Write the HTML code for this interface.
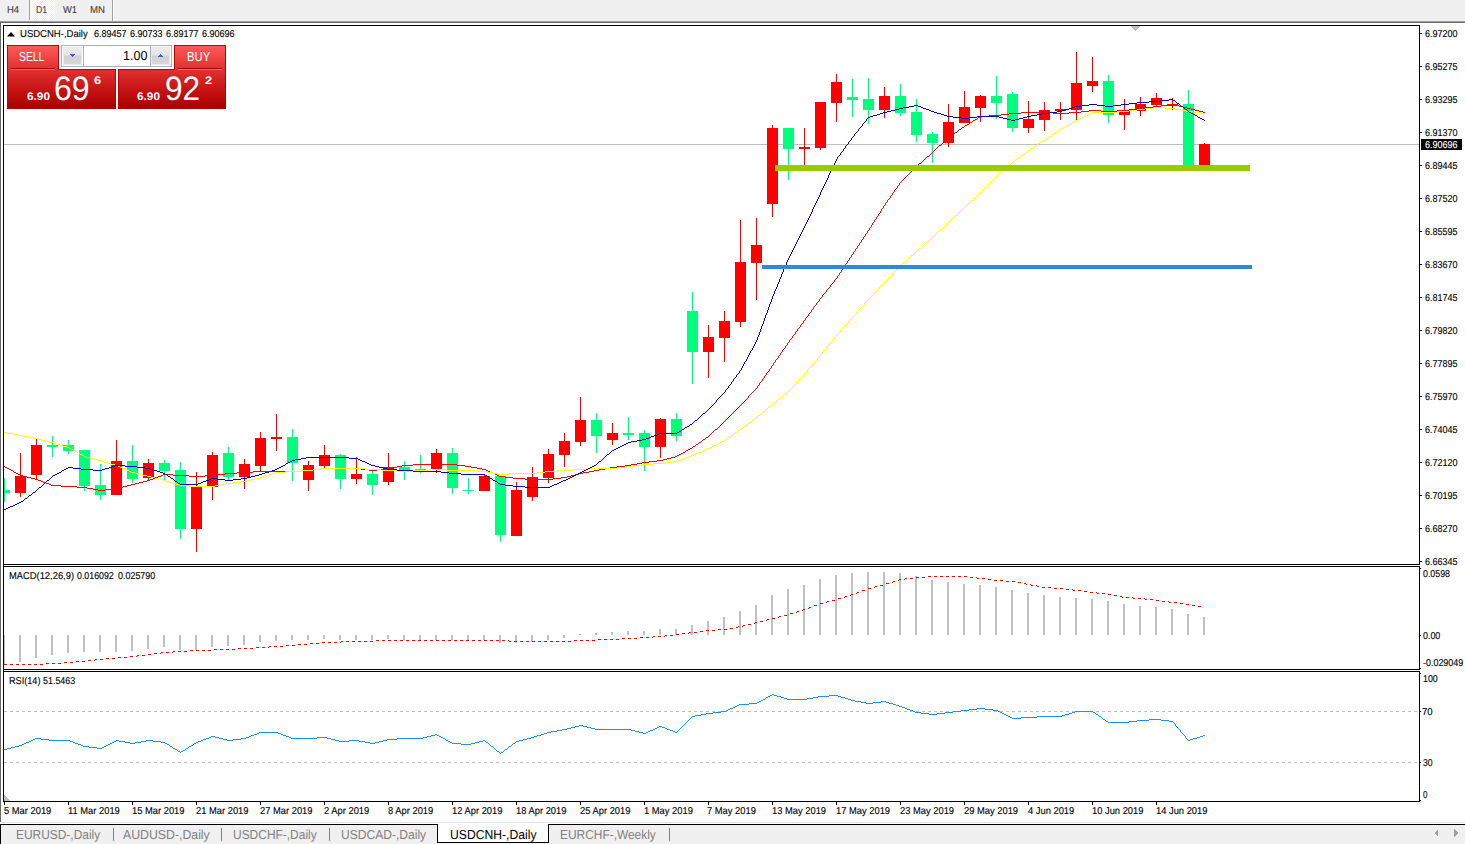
<!DOCTYPE html>
<html><head><meta charset="utf-8"><title>USDCNH Daily</title><style>
html,body{margin:0;padding:0;background:#fff;}
body{width:1465px;height:844px;position:relative;overflow:hidden;font-family:"Liberation Sans",sans-serif;}
svg{position:absolute;left:0;top:0;}
.t{position:absolute;white-space:nowrap;line-height:1;transform-origin:0 0;text-rendering:geometricPrecision;font-family:"Liberation Sans",sans-serif;}
.s{-webkit-text-stroke:0.12px currentColor;}
.oc div{position:absolute;box-sizing:border-box;}
.sellb{left:7px;top:45px;width:52px;height:24px;background:linear-gradient(#ff5a5a,#e03030);border:1px solid #c80000;border-bottom:none;}
.buyb{left:174px;top:45px;width:52px;height:24px;background:linear-gradient(#ff5a5a,#e03030);border:1px solid #c80000;border-bottom:none;}
.sellp{left:7px;top:69px;width:109px;height:40px;background:linear-gradient(#e03030,#c81414 50%,#aa0000);border:1px solid #c00000;}
.buyp{left:118px;top:69px;width:108px;height:40px;background:linear-gradient(#e03030,#c81414 50%,#aa0000);border:1px solid #c00000;}
.vol{left:61px;top:45px;width:111px;height:22px;border:1px solid #aab0bc;background:#fff;}
.vb{top:1px;width:19px;height:18px;background:linear-gradient(#ececec,#e4e4e4 45%,#d0d0d0 50%,#d8d8d8);border:1px solid #e8e8e8;}
.vb.l{left:1px}.vb.r{right:1px}
.vf{left:21px;top:0;width:68px;height:20px;border-left:1px solid #aab0bc;border-right:1px solid #aab0bc;background:#fff;}
</style></head>
<body>

<div class="oc">
 <div class="sellb"></div><div class="buyb"></div>
 <div class="sellp"></div><div class="buyp"></div>
 <div class="vol"><div class="vb l"></div><div class="vf"></div><div class="vb r"></div></div>
</div>
<svg width="1465" height="844" viewBox="0 0 1465 844" shape-rendering="crispEdges">
<rect x="0" y="0" width="1465" height="21" fill="#f0f0f0" />
<defs><pattern id="hx" width="2" height="2" patternUnits="userSpaceOnUse"><rect width="2" height="2" fill="#f0f0f0"/><rect width="1" height="1" fill="#fff"/><rect x="1" y="1" width="1" height="1" fill="#fff"/></pattern></defs>
<rect x="30" y="0" width="25" height="20" fill="url(#hx)" />
<rect x="29" y="0" width="1" height="20" fill="#a0a0a0" />
<rect x="112" y="0" width="1" height="21" fill="#a0a0a0" />
<rect x="113" y="0" width="1" height="21" fill="#ffffff" />
<rect x="0" y="21" width="1465" height="1" fill="#a0a0a0" />
<rect x="0" y="22" width="1465" height="1" fill="#696969" />
<rect x="0" y="22" width="1" height="801" fill="#696969" />
<rect x="3" y="25" width="1417" height="1" fill="#000" />
<rect x="3" y="25" width="1" height="777" fill="#000" />
<rect x="1419" y="25" width="1" height="540" fill="#000" />
<rect x="1419" y="566" width="1" height="104" fill="#000" />
<rect x="1419" y="671" width="1" height="131" fill="#000" />
<rect x="1420" y="568" width="1" height="1" fill="#000" />
<rect x="1420" y="635" width="1" height="1" fill="#000" />
<rect x="1420" y="668" width="1" height="1" fill="#000" />
<rect x="1420" y="673" width="1" height="1" fill="#000" />
<rect x="1420" y="711" width="1" height="1" fill="#000" />
<rect x="1420" y="762" width="1" height="1" fill="#000" />
<rect x="1420" y="800" width="1" height="1" fill="#000" />
<rect x="3" y="801" width="1417" height="1" fill="#000" />
<rect x="3" y="564" width="1417" height="1" fill="#000" />
<rect x="3" y="566" width="1417" height="1" fill="#000" />
<rect x="3" y="669" width="1417" height="1" fill="#000" />
<rect x="3" y="671" width="1417" height="1" fill="#000" />
<polygon points="1130,26 1140,26 1135,31" fill="#c0c0c0"/>
<polygon points="4,795 4,801 10,801" fill="#c0c0c0"/>
<rect x="4" y="144" width="1415" height="1" fill="#c0c0c0" />
<clipPath id="cp"><rect x="4" y="26" width="1415" height="775"/></clipPath><g clip-path="url(#cp)">
<rect x="4" y="478" width="1" height="24" fill="#00ff7f" />
<rect x="-1" y="490" width="11" height="3" fill="#00ff7f" />
<rect x="20" y="453" width="1" height="44" fill="#ff0000" />
<rect x="15" y="476" width="11" height="17" fill="#ff0000" />
<rect x="36" y="439" width="1" height="41" fill="#ff0000" />
<rect x="31" y="445" width="11" height="30" fill="#ff0000" />
<rect x="52" y="436" width="1" height="21" fill="#00ff7f" />
<rect x="47" y="445" width="11" height="2" fill="#00ff7f" />
<rect x="68" y="440" width="1" height="14" fill="#00ff7f" />
<rect x="63" y="445" width="11" height="6" fill="#00ff7f" />
<rect x="84" y="450" width="1" height="41" fill="#00ff7f" />
<rect x="79" y="450" width="11" height="36" fill="#00ff7f" />
<rect x="100" y="464" width="1" height="36" fill="#00ff7f" />
<rect x="95" y="485" width="11" height="10" fill="#00ff7f" />
<rect x="116" y="440" width="1" height="55" fill="#ff0000" />
<rect x="111" y="461" width="11" height="34" fill="#ff0000" />
<rect x="132" y="445" width="1" height="38" fill="#00ff7f" />
<rect x="127" y="461" width="11" height="18" fill="#00ff7f" />
<rect x="148" y="459" width="1" height="21" fill="#ff0000" />
<rect x="143" y="463" width="11" height="15" fill="#ff0000" />
<rect x="164" y="460" width="1" height="20" fill="#00ff7f" />
<rect x="159" y="463" width="11" height="8" fill="#00ff7f" />
<rect x="180" y="462" width="1" height="77" fill="#00ff7f" />
<rect x="175" y="470" width="11" height="59" fill="#00ff7f" />
<rect x="196" y="472" width="1" height="80" fill="#ff0000" />
<rect x="191" y="486" width="11" height="43" fill="#ff0000" />
<rect x="212" y="452" width="1" height="48" fill="#ff0000" />
<rect x="207" y="455" width="11" height="32" fill="#ff0000" />
<rect x="228" y="447" width="1" height="33" fill="#00ff7f" />
<rect x="223" y="453" width="11" height="24" fill="#00ff7f" />
<rect x="244" y="459" width="1" height="30" fill="#ff0000" />
<rect x="239" y="464" width="11" height="13" fill="#ff0000" />
<rect x="260" y="432" width="1" height="40" fill="#ff0000" />
<rect x="255" y="438" width="11" height="28" fill="#ff0000" />
<rect x="276" y="414" width="1" height="37" fill="#ff0000" />
<rect x="271" y="437" width="11" height="2" fill="#ff0000" />
<rect x="292" y="429" width="1" height="52" fill="#00ff7f" />
<rect x="287" y="437" width="11" height="26" fill="#00ff7f" />
<rect x="308" y="461" width="1" height="30" fill="#ff0000" />
<rect x="303" y="465" width="11" height="15" fill="#ff0000" />
<rect x="324" y="445" width="1" height="23" fill="#ff0000" />
<rect x="319" y="455" width="11" height="11" fill="#ff0000" />
<rect x="340" y="454" width="1" height="35" fill="#00ff7f" />
<rect x="335" y="455" width="11" height="24" fill="#00ff7f" />
<rect x="356" y="457" width="1" height="27" fill="#ff0000" />
<rect x="351" y="474" width="11" height="5" fill="#ff0000" />
<rect x="372" y="471" width="1" height="24" fill="#00ff7f" />
<rect x="367" y="474" width="11" height="11" fill="#00ff7f" />
<rect x="388" y="453" width="1" height="32" fill="#ff0000" />
<rect x="383" y="467" width="11" height="15" fill="#ff0000" />
<rect x="404" y="461" width="1" height="19" fill="#00ff7f" />
<rect x="399" y="467" width="11" height="4" fill="#00ff7f" />
<rect x="420" y="455" width="1" height="18" fill="#00ff7f" />
<rect x="415" y="469" width="11" height="2" fill="#00ff7f" />
<rect x="436" y="449" width="1" height="24" fill="#ff0000" />
<rect x="431" y="453" width="11" height="16" fill="#ff0000" />
<rect x="452" y="448" width="1" height="46" fill="#00ff7f" />
<rect x="447" y="453" width="11" height="35" fill="#00ff7f" />
<rect x="468" y="478" width="1" height="16" fill="#00ff7f" />
<rect x="463" y="490" width="11" height="1" fill="#00ff7f" />
<rect x="484" y="475" width="1" height="16" fill="#ff0000" />
<rect x="479" y="476" width="11" height="15" fill="#ff0000" />
<rect x="500" y="476" width="1" height="66" fill="#00ff7f" />
<rect x="495" y="476" width="11" height="59" fill="#00ff7f" />
<rect x="516" y="482" width="1" height="54" fill="#ff0000" />
<rect x="511" y="490" width="11" height="46" fill="#ff0000" />
<rect x="532" y="467" width="1" height="34" fill="#ff0000" />
<rect x="527" y="477" width="11" height="20" fill="#ff0000" />
<rect x="548" y="449" width="1" height="34" fill="#ff0000" />
<rect x="543" y="454" width="11" height="24" fill="#ff0000" />
<rect x="564" y="433" width="1" height="34" fill="#ff0000" />
<rect x="559" y="441" width="11" height="14" fill="#ff0000" />
<rect x="580" y="397" width="1" height="49" fill="#ff0000" />
<rect x="575" y="420" width="11" height="22" fill="#ff0000" />
<rect x="596" y="413" width="1" height="40" fill="#00ff7f" />
<rect x="591" y="420" width="11" height="16" fill="#00ff7f" />
<rect x="612" y="423" width="1" height="22" fill="#ff0000" />
<rect x="607" y="433" width="11" height="7" fill="#ff0000" />
<rect x="628" y="417" width="1" height="23" fill="#00ff7f" />
<rect x="623" y="433" width="11" height="2" fill="#00ff7f" />
<rect x="644" y="430" width="1" height="41" fill="#00ff7f" />
<rect x="639" y="433" width="11" height="14" fill="#00ff7f" />
<rect x="660" y="418" width="1" height="40" fill="#ff0000" />
<rect x="655" y="419" width="11" height="28" fill="#ff0000" />
<rect x="676" y="413" width="1" height="28" fill="#00ff7f" />
<rect x="671" y="419" width="11" height="17" fill="#00ff7f" />
<rect x="692" y="292" width="1" height="92" fill="#00ff7f" />
<rect x="687" y="311" width="11" height="41" fill="#00ff7f" />
<rect x="708" y="325" width="1" height="53" fill="#ff0000" />
<rect x="703" y="337" width="11" height="15" fill="#ff0000" />
<rect x="724" y="311" width="1" height="51" fill="#ff0000" />
<rect x="719" y="321" width="11" height="17" fill="#ff0000" />
<rect x="740" y="220" width="1" height="107" fill="#ff0000" />
<rect x="735" y="262" width="11" height="60" fill="#ff0000" />
<rect x="756" y="218" width="1" height="82" fill="#ff0000" />
<rect x="751" y="245" width="11" height="18" fill="#ff0000" />
<rect x="772" y="125" width="1" height="92" fill="#ff0000" />
<rect x="767" y="128" width="11" height="76" fill="#ff0000" />
<rect x="788" y="128" width="1" height="52" fill="#00ff7f" />
<rect x="783" y="128" width="11" height="21" fill="#00ff7f" />
<rect x="804" y="128" width="1" height="37" fill="#ff0000" />
<rect x="799" y="147" width="11" height="2" fill="#ff0000" />
<rect x="820" y="102" width="1" height="48" fill="#ff0000" />
<rect x="815" y="102" width="11" height="46" fill="#ff0000" />
<rect x="836" y="74" width="1" height="48" fill="#ff0000" />
<rect x="831" y="82" width="11" height="21" fill="#ff0000" />
<rect x="852" y="79" width="1" height="38" fill="#00ff7f" />
<rect x="847" y="97" width="11" height="3" fill="#00ff7f" />
<rect x="868" y="78" width="1" height="46" fill="#00ff7f" />
<rect x="863" y="99" width="11" height="11" fill="#00ff7f" />
<rect x="884" y="87" width="1" height="31" fill="#ff0000" />
<rect x="879" y="96" width="11" height="14" fill="#ff0000" />
<rect x="900" y="84" width="1" height="32" fill="#00ff7f" />
<rect x="895" y="96" width="11" height="17" fill="#00ff7f" />
<rect x="916" y="99" width="1" height="43" fill="#00ff7f" />
<rect x="911" y="112" width="11" height="23" fill="#00ff7f" />
<rect x="932" y="132" width="1" height="31" fill="#00ff7f" />
<rect x="927" y="134" width="11" height="9" fill="#00ff7f" />
<rect x="948" y="104" width="1" height="43" fill="#ff0000" />
<rect x="943" y="122" width="11" height="21" fill="#ff0000" />
<rect x="964" y="91" width="1" height="32" fill="#ff0000" />
<rect x="959" y="107" width="11" height="16" fill="#ff0000" />
<rect x="980" y="95" width="1" height="27" fill="#ff0000" />
<rect x="975" y="96" width="11" height="12" fill="#ff0000" />
<rect x="996" y="76" width="1" height="43" fill="#00ff7f" />
<rect x="991" y="96" width="11" height="7" fill="#00ff7f" />
<rect x="1012" y="92" width="1" height="40" fill="#00ff7f" />
<rect x="1007" y="94" width="11" height="34" fill="#00ff7f" />
<rect x="1028" y="101" width="1" height="32" fill="#ff0000" />
<rect x="1023" y="119" width="11" height="9" fill="#ff0000" />
<rect x="1044" y="102" width="1" height="29" fill="#ff0000" />
<rect x="1039" y="110" width="11" height="10" fill="#ff0000" />
<rect x="1060" y="102" width="1" height="18" fill="#ff0000" />
<rect x="1055" y="109" width="11" height="2" fill="#ff0000" />
<rect x="1076" y="52" width="1" height="68" fill="#ff0000" />
<rect x="1071" y="83" width="11" height="27" fill="#ff0000" />
<rect x="1092" y="57" width="1" height="35" fill="#ff0000" />
<rect x="1087" y="81" width="11" height="5" fill="#ff0000" />
<rect x="1108" y="75" width="1" height="48" fill="#00ff7f" />
<rect x="1103" y="81" width="11" height="34" fill="#00ff7f" />
<rect x="1124" y="99" width="1" height="31" fill="#ff0000" />
<rect x="1119" y="111" width="11" height="4" fill="#ff0000" />
<rect x="1140" y="97" width="1" height="19" fill="#ff0000" />
<rect x="1135" y="104" width="11" height="7" fill="#ff0000" />
<rect x="1156" y="93" width="1" height="13" fill="#ff0000" />
<rect x="1151" y="98" width="11" height="7" fill="#ff0000" />
<rect x="1172" y="98" width="1" height="12" fill="#ff0000" />
<rect x="1167" y="104" width="11" height="2" fill="#ff0000" />
<rect x="1188" y="90" width="1" height="75" fill="#00ff7f" />
<rect x="1183" y="104" width="11" height="61" fill="#00ff7f" />
<rect x="1204" y="143" width="1" height="22" fill="#ff0000" />
<rect x="1199" y="144" width="11" height="21" fill="#ff0000" />
<path d="M4 466h1v1h-1zM5 467h2v1h-2zM7 468h2v1h-2zM9 469h2v1h-2zM11 470h2v1h-2zM13 471h1v1h-1zM14 472h2v1h-2zM16 473h2v1h-2zM18 474h2v1h-2zM20 475h3v1h-3zM23 476h4v1h-4zM27 477h4v1h-4zM31 478h4v1h-4zM35 479h3v1h-3zM38 480h3v1h-3zM41 481h2v1h-2zM43 482h3v1h-3zM46 483h3v1h-3zM49 484h2v1h-2zM51 485h10v1h-10zM61 486h16v1h-16zM77 487h10v1h-10zM87 488h6v1h-6zM93 489h5v1h-5zM98 490h7v1h-7zM105 489h8v1h-8zM113 488h6v1h-6zM119 487h4v1h-4zM123 486h4v1h-4zM127 485h4v1h-4zM131 484h4v1h-4zM135 483h4v1h-4zM139 482h4v1h-4zM143 481h4v1h-4zM147 480h3v1h-3zM150 479h3v1h-3zM153 478h2v1h-2zM155 477h3v1h-3zM158 476h3v1h-3zM161 475h2v1h-2zM163 474h10v1h-10zM173 475h16v1h-16zM189 476h16v1h-16zM205 475h12v1h-12zM217 474h8v1h-8zM225 473h12v1h-12zM237 472h16v1h-16zM253 471h48v1h-48zM301 470h12v1h-12zM313 469h8v1h-8zM321 468h40v1h-40zM361 469h8v1h-8zM369 470h8v1h-8zM377 469h8v1h-8zM385 468h6v1h-6zM391 467h6v1h-6zM397 466h5v1h-5zM402 465h11v1h-11zM413 464h44v1h-44zM457 465h8v1h-8zM465 466h6v1h-6zM471 467h6v1h-6zM477 468h5v1h-5zM482 469h4v1h-4zM486 470h2v1h-2zM488 471h2v1h-2zM490 472h3v1h-3zM493 473h2v1h-2zM495 474h2v1h-2zM497 475h2v1h-2zM499 476h6v1h-6zM505 477h8v1h-8zM513 478h12v1h-12zM525 479h28v1h-28zM553 478h8v1h-8zM561 477h6v1h-6zM567 476h4v1h-4zM571 475h4v1h-4zM575 474h4v1h-4zM579 473h4v1h-4zM583 472h6v1h-6zM589 471h5v1h-5zM594 470h5v1h-5zM599 469h6v1h-6zM605 468h5v1h-5zM610 467h7v1h-7zM617 466h8v1h-8zM625 465h6v1h-6zM631 464h6v1h-6zM637 463h5v1h-5zM642 462h7v1h-7zM649 461h8v1h-8zM657 460h6v1h-6zM663 459h4v1h-4zM667 458h4v1h-4zM671 457h4v1h-4zM675 456h2v1h-2zM677 455h2v1h-2zM679 454h2v1h-2zM681 453h2v1h-2zM683 452h2v1h-2zM685 451h1v1h-1zM686 450h2v1h-2zM688 449h2v1h-2zM690 448h2v1h-2zM692 447h1v1h-1zM693 446h2v1h-2zM695 445h1v1h-1zM696 444h2v1h-2zM698 443h1v1h-1zM699 442h2v1h-2zM701 441h1v1h-1zM702 440h1v1h-1zM703 439h2v1h-2zM705 438h1v1h-1zM706 437h2v1h-2zM708 436h1v1h-1zM709 435h1v1h-1zM710 434h1v1h-1zM711 433h1v1h-1zM712 432h1v1h-1zM713 431h1v1h-1zM714 430h1v1h-1zM715 429h2v1h-2zM717 428h1v1h-1zM718 427h1v1h-1zM719 426h1v1h-1zM720 425h1v1h-1zM721 424h1v1h-1zM722 423h1v1h-1zM723 422h1v1h-1zM724 421h1v1h-1zM725 420h1v1h-1zM726 419h1v1h-1zM727 418h1v1h-1zM728 417h1v1h-1zM729 416h1v1h-1zM730 415h1v1h-1zM731 414h1v1h-1zM732 413h1v1h-1zM733 412h1v1h-1zM734 411h1v1h-1zM735 410h1v1h-1zM736 409h1v1h-1zM737 408h1v1h-1zM738 407h1v1h-1zM739 406h1v1h-1zM740 405h1v1h-1zM741 404h1v1h-1zM742 403h1v1h-1zM743 402h1v1h-1zM744 401h1v1h-1zM745 400h1v1h-1zM746 399h1v1h-1zM747 398h1v1h-1zM748 396h1v2h-1zM749 395h1v1h-1zM750 394h1v1h-1zM751 393h1v1h-1zM752 392h1v1h-1zM753 391h1v1h-1zM754 390h1v1h-1zM755 389h1v1h-1zM756 388h1v1h-1zM757 386h1v2h-1zM758 385h1v1h-1zM759 383h1v2h-1zM760 382h1v1h-1zM761 381h1v1h-1zM762 379h1v2h-1zM763 378h1v1h-1zM764 376h1v2h-1zM765 375h1v1h-1zM766 373h1v2h-1zM767 372h1v1h-1zM768 371h1v1h-1zM769 369h1v2h-1zM770 368h1v1h-1zM771 366h1v2h-1zM772 365h1v1h-1zM773 363h1v2h-1zM774 362h1v1h-1zM775 360h1v2h-1zM776 359h1v1h-1zM777 358h1v1h-1zM778 356h1v2h-1zM779 355h1v1h-1zM780 353h1v2h-1zM781 352h1v1h-1zM782 350h1v2h-1zM783 349h1v1h-1zM784 348h1v1h-1zM785 346h1v2h-1zM786 345h1v1h-1zM787 343h1v2h-1zM788 342h1v1h-1zM789 340h1v2h-1zM790 339h1v1h-1zM791 338h1v1h-1zM792 336h1v2h-1zM793 335h1v1h-1zM794 334h1v1h-1zM795 332h1v2h-1zM796 331h1v1h-1zM797 329h1v2h-1zM798 328h1v1h-1zM799 327h1v1h-1zM800 325h1v2h-1zM801 324h1v1h-1zM802 323h1v1h-1zM803 321h1v2h-1zM804 320h1v1h-1zM805 318h1v2h-1zM806 317h1v1h-1zM807 316h1v1h-1zM808 314h1v2h-1zM809 313h1v1h-1zM810 312h1v1h-1zM811 310h1v2h-1zM812 309h1v1h-1zM813 307h1v2h-1zM814 306h1v1h-1zM815 305h1v1h-1zM816 303h1v2h-1zM817 302h1v1h-1zM818 301h1v1h-1zM819 299h1v2h-1zM820 298h1v1h-1zM821 297h1v1h-1zM822 295h1v2h-1zM823 294h1v1h-1zM824 293h1v1h-1zM825 292h1v1h-1zM826 290h1v2h-1zM827 289h1v1h-1zM828 288h1v1h-1zM829 287h1v1h-1zM830 285h1v2h-1zM831 284h1v1h-1zM832 283h1v1h-1zM833 282h1v1h-1zM834 280h1v2h-1zM835 279h1v1h-1zM836 278h1v1h-1zM837 276h1v2h-1zM838 275h1v1h-1zM839 273h1v2h-1zM840 272h1v1h-1zM841 270h1v2h-1zM842 269h1v1h-1zM843 267h1v2h-1zM844 266h1v1h-1zM845 264h1v2h-1zM846 263h1v1h-1zM847 261h1v2h-1zM848 260h1v1h-1zM849 258h1v2h-1zM850 257h1v1h-1zM851 255h1v2h-1zM852 254h1v1h-1zM853 252h1v2h-1zM854 251h1v1h-1zM855 249h1v2h-1zM856 248h1v1h-1zM857 246h1v2h-1zM858 245h1v1h-1zM859 243h1v2h-1zM860 242h1v1h-1zM861 240h1v2h-1zM862 239h1v1h-1zM863 237h1v2h-1zM864 236h1v1h-1zM865 234h1v2h-1zM866 233h1v1h-1zM867 231h1v2h-1zM868 230h1v1h-1zM869 228h1v2h-1zM870 227h1v1h-1zM871 225h1v2h-1zM872 223h1v2h-1zM873 222h1v1h-1zM874 220h1v2h-1zM875 219h1v1h-1zM876 217h1v2h-1zM877 216h1v1h-1zM878 214h1v2h-1zM879 213h1v1h-1zM880 211h1v2h-1zM881 209h1v2h-1zM882 208h1v1h-1zM883 206h1v2h-1zM884 205h1v1h-1zM885 203h1v2h-1zM886 202h1v1h-1zM887 200h1v2h-1zM888 199h1v1h-1zM889 198h1v1h-1zM890 196h1v2h-1zM891 195h1v1h-1zM892 193h1v2h-1zM893 192h1v1h-1zM894 190h1v2h-1zM895 189h1v1h-1zM896 188h1v1h-1zM897 186h1v2h-1zM898 185h1v1h-1zM899 183h1v2h-1zM900 182h1v1h-1zM901 181h1v1h-1zM902 180h1v1h-1zM903 179h1v1h-1zM904 178h1v1h-1zM905 177h1v1h-1zM906 176h1v1h-1zM907 175h1v1h-1zM908 174h1v1h-1zM909 173h1v1h-1zM910 172h1v1h-1zM911 171h1v1h-1zM912 170h1v1h-1zM913 169h1v1h-1zM914 168h1v1h-1zM915 167h1v1h-1zM916 166h1v1h-1zM917 165h1v1h-1zM918 164h1v1h-1zM919 163h2v1h-2zM921 162h1v1h-1zM922 161h1v1h-1zM923 160h1v1h-1zM924 159h1v1h-1zM925 158h1v1h-1zM926 157h1v1h-1zM927 156h2v1h-2zM929 155h1v1h-1zM930 154h1v1h-1zM931 153h1v1h-1zM932 152h1v1h-1zM933 151h1v1h-1zM934 150h1v1h-1zM935 149h1v1h-1zM936 148h1v1h-1zM937 147h1v1h-1zM938 146h1v1h-1zM939 145h2v1h-2zM941 144h1v1h-1zM942 143h1v1h-1zM943 142h1v1h-1zM944 141h1v1h-1zM945 140h1v1h-1zM946 139h1v1h-1zM947 138h1v1h-1zM948 137h1v1h-1zM949 136h2v1h-2zM951 135h1v1h-1zM952 134h2v1h-2zM954 133h1v1h-1zM955 132h2v1h-2zM957 131h1v1h-1zM958 130h1v1h-1zM959 129h2v1h-2zM961 128h1v1h-1zM962 127h2v1h-2zM964 126h1v1h-1zM965 125h2v1h-2zM967 124h2v1h-2zM969 123h1v1h-1zM970 122h2v1h-2zM972 121h1v1h-1zM973 120h2v1h-2zM975 119h2v1h-2zM977 118h1v1h-1zM978 117h2v1h-2zM980 116h9v1h-9zM989 115h12v1h-12zM1001 114h8v1h-8zM1009 113h12v1h-12zM1021 112h32v1h-32zM1053 113h16v1h-16zM1069 112h12v1h-12zM1081 111h8v1h-8zM1089 110h12v1h-12zM1101 111h16v1h-16zM1117 110h12v1h-12zM1129 109h8v1h-8zM1137 108h8v1h-8zM1145 107h8v1h-8zM1153 106h8v1h-8zM1161 105h8v1h-8zM1169 104h6v1h-6zM1175 105h4v1h-4zM1179 106h4v1h-4zM1183 107h4v1h-4zM1187 108h4v1h-4zM1191 109h4v1h-4zM1195 110h4v1h-4zM1199 111h4v1h-4zM1203 112h2v1h-2z" fill="#ff0000"/>
<path d="M4 432h3v1h-3zM7 433h6v1h-6zM13 434h5v1h-5zM18 435h5v1h-5zM23 436h6v1h-6zM29 437h5v1h-5zM34 438h4v1h-4zM38 439h4v1h-4zM42 440h3v1h-3zM45 441h4v1h-4zM49 442h4v1h-4zM53 443h3v1h-3zM56 444h4v1h-4zM60 445h3v1h-3zM63 446h4v1h-4zM67 447h2v1h-2zM69 448h2v1h-2zM71 449h2v1h-2zM73 450h2v1h-2zM75 451h2v1h-2zM77 452h1v1h-1zM78 453h2v1h-2zM80 454h2v1h-2zM82 455h2v1h-2zM84 456h2v1h-2zM86 457h4v1h-4zM90 458h3v1h-3zM93 459h4v1h-4zM97 460h4v1h-4zM101 461h3v1h-3zM104 462h4v1h-4zM108 463h3v1h-3zM111 464h4v1h-4zM115 465h3v1h-3zM118 466h2v1h-2zM120 467h2v1h-2zM122 468h3v1h-3zM125 469h2v1h-2zM127 470h2v1h-2zM129 471h2v1h-2zM131 472h4v1h-4zM135 473h4v1h-4zM139 474h4v1h-4zM143 475h4v1h-4zM147 476h4v1h-4zM151 477h4v1h-4zM155 478h4v1h-4zM159 479h4v1h-4zM163 480h3v1h-3zM166 481h3v1h-3zM169 482h4v1h-4zM173 483h3v1h-3zM176 484h3v1h-3zM179 485h10v1h-10zM189 486h26v1h-26zM215 485h6v1h-6zM221 484h5v1h-5zM226 483h7v1h-7zM233 482h8v1h-8zM241 481h6v1h-6zM247 480h4v1h-4zM251 479h4v1h-4zM255 478h4v1h-4zM259 477h3v1h-3zM262 476h3v1h-3zM265 475h4v1h-4zM269 474h3v1h-3zM272 473h3v1h-3zM275 472h10v1h-10zM285 471h16v1h-16zM301 470h12v1h-12zM313 469h8v1h-8zM321 468h44v1h-44zM365 469h16v1h-16zM381 470h16v1h-16zM397 471h16v1h-16zM413 470h16v1h-16zM429 469h16v1h-16zM445 470h32v1h-32zM477 471h10v1h-10zM487 472h6v1h-6zM493 473h5v1h-5zM498 474h11v1h-11zM509 473h28v1h-28zM537 472h8v1h-8zM545 471h12v1h-12zM557 470h16v1h-16zM573 469h16v1h-16zM589 468h28v1h-28zM617 467h8v1h-8zM625 466h8v1h-8zM633 465h8v1h-8zM641 464h12v1h-12zM653 463h12v1h-12zM665 462h8v1h-8zM673 461h5v1h-5zM678 460h3v1h-3zM681 459h2v1h-2zM683 458h3v1h-3zM686 457h3v1h-3zM689 456h2v1h-2zM691 455h3v1h-3zM694 454h2v1h-2zM696 453h2v1h-2zM698 452h3v1h-3zM701 451h2v1h-2zM703 450h2v1h-2zM705 449h2v1h-2zM707 448h3v1h-3zM710 447h2v1h-2zM712 446h2v1h-2zM714 445h2v1h-2zM716 444h2v1h-2zM718 443h2v1h-2zM720 442h2v1h-2zM722 441h2v1h-2zM724 440h1v1h-1zM725 439h2v1h-2zM727 438h1v1h-1zM728 437h2v1h-2zM730 436h1v1h-1zM731 435h2v1h-2zM733 434h1v1h-1zM734 433h1v1h-1zM735 432h2v1h-2zM737 431h1v1h-1zM738 430h2v1h-2zM740 429h1v1h-1zM741 428h2v1h-2zM743 427h1v1h-1zM744 426h1v1h-1zM745 425h2v1h-2zM747 424h1v1h-1zM748 423h1v1h-1zM749 422h2v1h-2zM751 421h1v1h-1zM752 420h1v1h-1zM753 419h2v1h-2zM755 418h1v1h-1zM756 417h1v1h-1zM757 416h1v1h-1zM758 415h2v1h-2zM760 414h1v1h-1zM761 413h1v1h-1zM762 412h1v1h-1zM763 411h2v1h-2zM765 410h1v1h-1zM766 409h1v1h-1zM767 408h1v1h-1zM768 407h1v1h-1zM769 406h2v1h-2zM771 405h1v1h-1zM772 404h1v1h-1zM773 403h1v1h-1zM774 402h2v1h-2zM776 401h1v1h-1zM777 400h1v1h-1zM778 399h1v1h-1zM779 398h2v1h-2zM781 397h1v1h-1zM782 396h1v1h-1zM783 395h1v1h-1zM784 394h1v1h-1zM785 393h2v1h-2zM787 392h1v1h-1zM788 391h1v1h-1zM789 390h1v1h-1zM790 389h1v1h-1zM791 388h1v1h-1zM792 387h1v1h-1zM793 386h1v1h-1zM794 385h1v1h-1zM795 384h1v1h-1zM796 382h1v2h-1zM797 381h1v1h-1zM798 380h1v1h-1zM799 379h1v1h-1zM800 378h1v1h-1zM801 377h1v1h-1zM802 376h1v1h-1zM803 375h1v1h-1zM804 374h1v1h-1zM805 373h1v1h-1zM806 372h1v1h-1zM807 370h1v2h-1zM808 369h1v1h-1zM809 368h1v1h-1zM810 367h1v1h-1zM811 366h1v1h-1zM812 364h1v2h-1zM813 363h1v1h-1zM814 362h1v1h-1zM815 361h1v1h-1zM816 360h1v1h-1zM817 358h1v2h-1zM818 357h1v1h-1zM819 356h1v1h-1zM820 355h1v1h-1zM821 354h1v1h-1zM822 352h1v2h-1zM823 351h1v1h-1zM824 350h1v1h-1zM825 349h1v1h-1zM826 347h1v2h-1zM827 346h1v1h-1zM828 345h1v1h-1zM829 344h1v1h-1zM830 342h1v2h-1zM831 341h1v1h-1zM832 340h1v1h-1zM833 339h1v1h-1zM834 337h1v2h-1zM835 336h1v1h-1zM836 335h1v1h-1zM837 334h1v1h-1zM838 333h1v1h-1zM839 332h1v1h-1zM840 330h1v2h-1zM841 329h1v1h-1zM842 328h1v1h-1zM843 327h1v1h-1zM844 326h1v1h-1zM845 325h1v1h-1zM846 324h1v1h-1zM847 323h1v1h-1zM848 321h1v2h-1zM849 320h1v1h-1zM850 319h1v1h-1zM851 318h1v1h-1zM852 317h1v1h-1zM853 316h1v1h-1zM854 315h1v1h-1zM855 314h1v1h-1zM856 312h1v2h-1zM857 311h1v1h-1zM858 310h1v1h-1zM859 309h1v1h-1zM860 308h1v1h-1zM861 307h1v1h-1zM862 306h1v1h-1zM863 305h1v1h-1zM864 303h1v2h-1zM865 302h1v1h-1zM866 301h1v1h-1zM867 300h1v1h-1zM868 299h1v1h-1zM869 298h1v1h-1zM870 297h1v1h-1zM871 296h1v1h-1zM872 295h1v1h-1zM873 294h1v1h-1zM874 293h1v1h-1zM875 292h1v1h-1zM876 290h1v2h-1zM877 289h1v1h-1zM878 288h1v1h-1zM879 287h1v1h-1zM880 286h1v1h-1zM881 285h1v1h-1zM882 284h1v1h-1zM883 283h1v1h-1zM884 282h1v1h-1zM885 281h1v1h-1zM886 280h1v1h-1zM887 279h1v1h-1zM888 278h1v1h-1zM889 277h1v1h-1zM890 276h1v1h-1zM891 275h1v1h-1zM892 273h1v2h-1zM893 272h1v1h-1zM894 271h1v1h-1zM895 270h1v1h-1zM896 269h1v1h-1zM897 268h1v1h-1zM898 267h1v1h-1zM899 266h1v1h-1zM900 265h1v1h-1zM901 264h1v1h-1zM902 263h1v1h-1zM903 262h2v1h-2zM905 261h1v1h-1zM906 260h1v1h-1zM907 259h1v1h-1zM908 258h1v1h-1zM909 257h1v1h-1zM910 256h1v1h-1zM911 255h2v1h-2zM913 254h1v1h-1zM914 253h1v1h-1zM915 252h1v1h-1zM916 251h1v1h-1zM917 250h1v1h-1zM918 249h1v1h-1zM919 248h2v1h-2zM921 247h1v1h-1zM922 246h1v1h-1zM923 245h1v1h-1zM924 244h1v1h-1zM925 243h1v1h-1zM926 242h1v1h-1zM927 241h2v1h-2zM929 240h1v1h-1zM930 239h1v1h-1zM931 238h1v1h-1zM932 237h1v1h-1zM933 236h1v1h-1zM934 235h1v1h-1zM935 234h1v1h-1zM936 233h1v1h-1zM937 232h1v1h-1zM938 231h1v1h-1zM939 230h2v1h-2zM941 229h1v1h-1zM942 228h1v1h-1zM943 227h1v1h-1zM944 226h1v1h-1zM945 225h1v1h-1zM946 224h1v1h-1zM947 223h1v1h-1zM948 222h1v1h-1zM949 221h1v1h-1zM950 220h1v1h-1zM951 219h1v1h-1zM952 218h1v1h-1zM953 217h1v1h-1zM954 216h1v1h-1zM955 215h2v1h-2zM957 214h1v1h-1zM958 213h1v1h-1zM959 212h1v1h-1zM960 211h1v1h-1zM961 210h1v1h-1zM962 209h1v1h-1zM963 208h1v1h-1zM964 207h1v1h-1zM965 206h1v1h-1zM966 205h1v1h-1zM967 204h1v1h-1zM968 203h1v1h-1zM969 202h1v1h-1zM970 201h1v1h-1zM971 200h2v1h-2zM973 199h1v1h-1zM974 198h1v1h-1zM975 197h1v1h-1zM976 196h1v1h-1zM977 195h1v1h-1zM978 194h1v1h-1zM979 193h1v1h-1zM980 192h1v1h-1zM981 191h1v1h-1zM982 190h1v1h-1zM983 189h1v1h-1zM984 188h1v1h-1zM985 187h1v1h-1zM986 186h1v1h-1zM987 185h1v1h-1zM988 184h1v1h-1zM989 183h1v1h-1zM990 182h1v1h-1zM991 181h1v1h-1zM992 180h1v1h-1zM993 179h1v1h-1zM994 178h1v1h-1zM995 177h1v1h-1zM996 176h1v1h-1zM997 175h1v1h-1zM998 174h1v1h-1zM999 173h1v1h-1zM1000 172h1v1h-1zM1001 171h1v1h-1zM1002 170h1v1h-1zM1003 169h2v1h-2zM1005 168h1v1h-1zM1006 167h1v1h-1zM1007 166h1v1h-1zM1008 165h2v1h-2zM1010 164h1v1h-1zM1011 163h1v1h-1zM1012 162h1v1h-1zM1013 161h2v1h-2zM1015 160h1v1h-1zM1016 159h1v1h-1zM1017 158h2v1h-2zM1019 157h1v1h-1zM1020 156h1v1h-1zM1021 155h2v1h-2zM1023 154h1v1h-1zM1024 153h2v1h-2zM1026 152h1v1h-1zM1027 151h1v1h-1zM1028 150h2v1h-2zM1030 149h1v1h-1zM1031 148h2v1h-2zM1033 147h1v1h-1zM1034 146h1v1h-1zM1035 145h2v1h-2zM1037 144h1v1h-1zM1038 143h2v1h-2zM1040 142h1v1h-1zM1041 141h2v1h-2zM1043 140h2v1h-2zM1045 139h1v1h-1zM1046 138h2v1h-2zM1048 137h1v1h-1zM1049 136h2v1h-2zM1051 135h1v1h-1zM1052 134h2v1h-2zM1054 133h1v1h-1zM1055 132h2v1h-2zM1057 131h1v1h-1zM1058 130h2v1h-2zM1060 129h1v1h-1zM1061 128h2v1h-2zM1063 127h2v1h-2zM1065 126h2v1h-2zM1067 125h2v1h-2zM1069 124h1v1h-1zM1070 123h2v1h-2zM1072 122h2v1h-2zM1074 121h2v1h-2zM1076 120h2v1h-2zM1078 119h2v1h-2zM1080 118h2v1h-2zM1082 117h2v1h-2zM1084 116h2v1h-2zM1086 115h2v1h-2zM1088 114h2v1h-2zM1090 113h2v1h-2zM1092 112h25v1h-25zM1117 111h12v1h-12zM1129 110h8v1h-8zM1137 109h8v1h-8zM1145 108h8v1h-8zM1153 107h12v1h-12zM1165 108h10v1h-10zM1175 109h6v1h-6zM1181 110h5v1h-5zM1186 111h7v1h-7zM1193 112h8v1h-8zM1201 113h4v1h-4z" fill="#ffff00"/>
<path d="M4 509h2v1h-2zM6 508h2v1h-2zM8 507h2v1h-2zM10 506h3v1h-3zM13 505h2v1h-2zM15 504h2v1h-2zM17 503h2v1h-2zM19 502h2v1h-2zM21 501h2v1h-2zM23 500h1v1h-1zM24 499h1v1h-1zM25 498h2v1h-2zM27 497h1v1h-1zM28 496h1v1h-1zM29 495h2v1h-2zM31 494h1v1h-1zM32 493h1v1h-1zM33 492h2v1h-2zM35 491h1v1h-1zM36 490h1v1h-1zM37 489h1v1h-1zM38 488h1v1h-1zM39 487h2v1h-2zM41 486h1v1h-1zM42 485h1v1h-1zM43 484h1v1h-1zM44 483h1v1h-1zM45 482h1v1h-1zM46 481h1v1h-1zM47 480h2v1h-2zM49 479h1v1h-1zM50 478h1v1h-1zM51 477h1v1h-1zM52 476h1v1h-1zM53 475h2v1h-2zM55 474h2v1h-2zM57 473h2v1h-2zM59 472h2v1h-2zM61 471h1v1h-1zM62 470h2v1h-2zM64 469h2v1h-2zM66 468h2v1h-2zM68 467h5v1h-5zM73 468h8v1h-8zM81 469h12v1h-12zM93 470h9v1h-9zM102 469h3v1h-3zM105 468h4v1h-4zM109 467h3v1h-3zM112 466h3v1h-3zM115 465h10v1h-10zM125 466h12v1h-12zM137 467h8v1h-8zM145 468h5v1h-5zM150 469h3v1h-3zM153 470h4v1h-4zM157 471h3v1h-3zM160 472h3v1h-3zM163 473h2v1h-2zM165 474h2v1h-2zM167 475h1v1h-1zM168 476h2v1h-2zM170 477h1v1h-1zM171 478h2v1h-2zM173 479h1v1h-1zM174 480h1v1h-1zM175 481h2v1h-2zM177 482h1v1h-1zM178 483h2v1h-2zM180 484h18v1h-18zM198 483h3v1h-3zM201 482h2v1h-2zM203 481h3v1h-3zM206 480h3v1h-3zM209 479h2v1h-2zM211 478h6v1h-6zM217 479h8v1h-8zM225 480h8v1h-8zM233 479h8v1h-8zM241 478h6v1h-6zM247 477h4v1h-4zM251 476h4v1h-4zM255 475h4v1h-4zM259 474h3v1h-3zM262 473h3v1h-3zM265 472h4v1h-4zM269 471h3v1h-3zM272 470h3v1h-3zM275 469h2v1h-2zM277 468h2v1h-2zM279 467h2v1h-2zM281 466h2v1h-2zM283 465h2v1h-2zM285 464h1v1h-1zM286 463h2v1h-2zM288 462h2v1h-2zM290 461h2v1h-2zM292 460h3v1h-3zM295 459h6v1h-6zM301 458h5v1h-5zM306 457h43v1h-43zM349 458h9v1h-9zM358 459h2v1h-2zM360 460h2v1h-2zM362 461h3v1h-3zM365 462h2v1h-2zM367 463h2v1h-2zM369 464h2v1h-2zM371 465h4v1h-4zM375 466h4v1h-4zM379 467h4v1h-4zM383 468h4v1h-4zM387 469h10v1h-10zM397 470h16v1h-16zM413 471h28v1h-28zM441 472h8v1h-8zM449 473h12v1h-12zM461 474h24v1h-24zM485 475h2v1h-2zM487 476h2v1h-2zM489 477h1v1h-1zM490 478h2v1h-2zM492 479h1v1h-1zM493 480h2v1h-2zM495 481h2v1h-2zM497 482h1v1h-1zM498 483h2v1h-2zM500 484h5v1h-5zM505 485h8v1h-8zM513 486h12v1h-12zM525 487h25v1h-25zM550 486h2v1h-2zM552 485h2v1h-2zM554 484h3v1h-3zM557 483h2v1h-2zM559 482h2v1h-2zM561 481h2v1h-2zM563 480h3v1h-3zM566 479h2v1h-2zM568 478h2v1h-2zM570 477h2v1h-2zM572 476h2v1h-2zM574 475h2v1h-2zM576 474h2v1h-2zM578 473h2v1h-2zM580 472h2v1h-2zM582 471h2v1h-2zM584 470h2v1h-2zM586 469h2v1h-2zM588 468h2v1h-2zM590 467h2v1h-2zM592 466h2v1h-2zM594 465h2v1h-2zM596 464h1v1h-1zM597 463h1v1h-1zM598 462h1v1h-1zM599 461h2v1h-2zM601 460h1v1h-1zM602 459h1v1h-1zM603 458h1v1h-1zM604 457h1v1h-1zM605 456h1v1h-1zM606 455h1v1h-1zM607 454h2v1h-2zM609 453h1v1h-1zM610 452h1v1h-1zM611 451h1v1h-1zM612 450h2v1h-2zM614 449h2v1h-2zM616 448h2v1h-2zM618 447h2v1h-2zM620 446h2v1h-2zM622 445h2v1h-2zM624 444h2v1h-2zM626 443h2v1h-2zM628 442h3v1h-3zM631 441h6v1h-6zM637 440h5v1h-5zM642 439h4v1h-4zM646 438h3v1h-3zM649 437h2v1h-2zM651 436h3v1h-3zM654 435h3v1h-3zM657 434h2v1h-2zM659 433h18v1h-18zM677 432h2v1h-2zM679 431h2v1h-2zM681 430h1v1h-1zM682 429h2v1h-2zM684 428h1v1h-1zM685 427h2v1h-2zM687 426h2v1h-2zM689 425h1v1h-1zM690 424h2v1h-2zM692 423h1v1h-1zM693 422h1v1h-1zM694 421h1v1h-1zM695 420h2v1h-2zM697 419h1v1h-1zM698 418h1v1h-1zM699 417h1v1h-1zM700 416h1v1h-1zM701 415h1v1h-1zM702 414h1v1h-1zM703 413h2v1h-2zM705 412h1v1h-1zM706 411h1v1h-1zM707 410h1v1h-1zM708 409h1v1h-1zM709 408h1v1h-1zM710 407h1v1h-1zM711 406h1v1h-1zM712 405h1v1h-1zM713 404h1v1h-1zM714 403h1v1h-1zM715 402h1v1h-1zM716 400h1v2h-1zM717 399h1v1h-1zM718 398h1v1h-1zM719 397h1v1h-1zM720 396h1v1h-1zM721 395h1v1h-1zM722 394h1v1h-1zM723 393h1v1h-1zM724 392h1v1h-1zM725 390h1v2h-1zM726 389h1v1h-1zM727 388h1v1h-1zM728 386h1v2h-1zM729 385h1v1h-1zM730 384h1v1h-1zM731 382h1v2h-1zM732 381h1v1h-1zM733 379h1v2h-1zM734 378h1v1h-1zM735 377h1v1h-1zM736 375h1v2h-1zM737 374h1v1h-1zM738 373h1v1h-1zM739 371h1v2h-1zM740 370h1v1h-1zM741 368h1v2h-1zM742 366h1v2h-1zM743 364h1v2h-1zM744 362h1v2h-1zM745 361h1v1h-1zM746 359h1v2h-1zM747 357h1v2h-1zM748 355h1v2h-1zM749 353h1v2h-1zM750 351h1v2h-1zM751 350h1v1h-1zM752 348h1v2h-1zM753 346h1v2h-1zM754 344h1v2h-1zM755 342h1v2h-1zM756 340h1v2h-1zM757 337h1v3h-1zM758 335h1v2h-1zM759 332h1v3h-1zM760 329h1v3h-1zM761 326h1v3h-1zM762 324h1v2h-1zM763 321h1v3h-1zM764 318h1v3h-1zM765 315h1v3h-1zM766 313h1v2h-1zM767 310h1v3h-1zM768 307h1v3h-1zM769 304h1v3h-1zM770 302h1v2h-1zM771 299h1v3h-1zM772 296h1v3h-1zM773 294h1v2h-1zM774 291h1v3h-1zM775 289h1v2h-1zM776 287h1v2h-1zM777 284h1v3h-1zM778 282h1v2h-1zM779 279h1v3h-1zM780 277h1v2h-1zM781 274h1v3h-1zM782 272h1v2h-1zM783 269h1v3h-1zM784 267h1v2h-1zM785 265h1v2h-1zM786 262h1v3h-1zM787 260h1v2h-1zM788 258h1v2h-1zM789 256h1v2h-1zM790 254h1v2h-1zM791 252h1v2h-1zM792 250h1v2h-1zM793 248h1v2h-1zM794 246h1v2h-1zM795 244h1v2h-1zM796 242h1v2h-1zM797 240h1v2h-1zM798 238h1v2h-1zM799 236h1v2h-1zM800 234h1v2h-1zM801 232h1v2h-1zM802 230h1v2h-1zM803 228h1v2h-1zM804 226h1v2h-1zM805 224h1v2h-1zM806 222h1v2h-1zM807 220h1v2h-1zM808 218h1v2h-1zM809 216h1v2h-1zM810 214h1v2h-1zM811 212h1v2h-1zM812 209h1v3h-1zM813 207h1v2h-1zM814 205h1v2h-1zM815 203h1v2h-1zM816 201h1v2h-1zM817 199h1v2h-1zM818 197h1v2h-1zM819 195h1v2h-1zM820 192h1v3h-1zM821 190h1v2h-1zM822 188h1v2h-1zM823 186h1v2h-1zM824 184h1v2h-1zM825 182h1v2h-1zM826 180h1v2h-1zM827 178h1v2h-1zM828 175h1v3h-1zM829 173h1v2h-1zM830 171h1v2h-1zM831 169h1v2h-1zM832 167h1v2h-1zM833 165h1v2h-1zM834 163h1v2h-1zM835 161h1v2h-1zM836 159h1v2h-1zM837 157h1v2h-1zM838 156h1v1h-1zM839 155h1v1h-1zM840 153h1v2h-1zM841 152h1v1h-1zM842 151h1v1h-1zM843 149h1v2h-1zM844 148h1v1h-1zM845 146h1v2h-1zM846 145h1v1h-1zM847 144h1v1h-1zM848 142h1v2h-1zM849 141h1v1h-1zM850 140h1v1h-1zM851 138h1v2h-1zM852 137h1v1h-1zM853 136h1v1h-1zM854 134h1v2h-1zM855 133h1v1h-1zM856 132h1v1h-1zM857 131h1v1h-1zM858 129h1v2h-1zM859 128h1v1h-1zM860 127h1v1h-1zM861 126h1v1h-1zM862 124h1v2h-1zM863 123h1v1h-1zM864 122h1v1h-1zM865 121h1v1h-1zM866 119h1v2h-1zM867 118h1v1h-1zM868 117h2v1h-2zM870 116h3v1h-3zM873 115h4v1h-4zM877 114h3v1h-3zM880 113h3v1h-3zM883 112h4v1h-4zM887 111h4v1h-4zM891 110h4v1h-4zM895 109h4v1h-4zM899 108h4v1h-4zM903 107h6v1h-6zM909 106h5v1h-5zM914 105h4v1h-4zM918 106h3v1h-3zM921 107h2v1h-2zM923 108h3v1h-3zM926 109h3v1h-3zM929 110h2v1h-2zM931 111h3v1h-3zM934 112h3v1h-3zM937 113h4v1h-4zM941 114h3v1h-3zM944 115h3v1h-3zM947 116h6v1h-6zM953 117h8v1h-8zM961 118h8v1h-8zM969 117h8v1h-8zM977 116h22v1h-22zM999 117h4v1h-4zM1003 118h4v1h-4zM1007 119h4v1h-4zM1011 120h4v1h-4zM1015 119h4v1h-4zM1019 118h4v1h-4zM1023 117h4v1h-4zM1027 116h4v1h-4zM1031 115h6v1h-6zM1037 114h5v1h-5zM1042 113h7v1h-7zM1049 112h8v1h-8zM1057 111h5v1h-5zM1062 110h3v1h-3zM1065 109h4v1h-4zM1069 108h3v1h-3zM1072 107h3v1h-3zM1075 106h6v1h-6zM1081 105h8v1h-8zM1089 104h8v1h-8zM1097 105h8v1h-8zM1105 106h8v1h-8zM1113 105h8v1h-8zM1121 104h8v1h-8zM1129 103h8v1h-8zM1137 102h12v1h-12zM1149 101h12v1h-12zM1161 100h8v1h-8zM1169 99h4v1h-4zM1173 100h2v1h-2zM1175 101h1v1h-1zM1176 102h1v1h-1zM1177 103h2v1h-2zM1179 104h1v1h-1zM1180 105h1v1h-1zM1181 106h2v1h-2zM1183 107h1v1h-1zM1184 108h1v1h-1zM1185 109h2v1h-2zM1187 110h1v1h-1zM1188 111h1v1h-1zM1189 112h2v1h-2zM1191 113h2v1h-2zM1193 114h2v1h-2zM1195 115h2v1h-2zM1197 116h1v1h-1zM1198 117h2v1h-2zM1200 118h2v1h-2zM1202 119h2v1h-2zM1204 120h1v1h-1z" fill="#0000cd"/>
<rect x="775" y="165" width="475" height="6" fill="#99cc00" />
<rect x="762" y="265" width="490" height="4" fill="#3388dd" />
<rect x="3" y="635" width="2" height="29" fill="#c0c0c0" />
<rect x="19" y="635" width="2" height="27" fill="#c0c0c0" />
<rect x="35" y="635" width="2" height="23" fill="#c0c0c0" />
<rect x="51" y="635" width="2" height="20" fill="#c0c0c0" />
<rect x="67" y="635" width="2" height="18" fill="#c0c0c0" />
<rect x="83" y="635" width="2" height="17" fill="#c0c0c0" />
<rect x="99" y="635" width="2" height="17" fill="#c0c0c0" />
<rect x="115" y="635" width="2" height="17" fill="#c0c0c0" />
<rect x="131" y="635" width="2" height="16" fill="#c0c0c0" />
<rect x="147" y="635" width="2" height="14" fill="#c0c0c0" />
<rect x="163" y="635" width="2" height="12" fill="#c0c0c0" />
<rect x="179" y="635" width="2" height="15" fill="#c0c0c0" />
<rect x="195" y="635" width="2" height="15" fill="#c0c0c0" />
<rect x="211" y="635" width="2" height="12" fill="#c0c0c0" />
<rect x="227" y="635" width="2" height="11" fill="#c0c0c0" />
<rect x="243" y="635" width="2" height="10" fill="#c0c0c0" />
<rect x="259" y="635" width="2" height="7" fill="#c0c0c0" />
<rect x="275" y="635" width="2" height="6" fill="#c0c0c0" />
<rect x="291" y="635" width="2" height="5" fill="#c0c0c0" />
<rect x="307" y="635" width="2" height="5" fill="#c0c0c0" />
<rect x="323" y="635" width="2" height="4" fill="#c0c0c0" />
<rect x="339" y="635" width="2" height="5" fill="#c0c0c0" />
<rect x="355" y="635" width="2" height="5" fill="#c0c0c0" />
<rect x="371" y="635" width="2" height="5" fill="#c0c0c0" />
<rect x="387" y="635" width="2" height="4" fill="#c0c0c0" />
<rect x="403" y="635" width="2" height="5" fill="#c0c0c0" />
<rect x="419" y="635" width="2" height="5" fill="#c0c0c0" />
<rect x="435" y="635" width="2" height="5" fill="#c0c0c0" />
<rect x="451" y="635" width="2" height="5" fill="#c0c0c0" />
<rect x="467" y="635" width="2" height="5" fill="#c0c0c0" />
<rect x="483" y="635" width="2" height="5" fill="#c0c0c0" />
<rect x="499" y="635" width="2" height="8" fill="#c0c0c0" />
<rect x="515" y="635" width="2" height="8" fill="#c0c0c0" />
<rect x="531" y="635" width="2" height="7" fill="#c0c0c0" />
<rect x="547" y="635" width="2" height="5" fill="#c0c0c0" />
<rect x="563" y="635" width="2" height="3" fill="#c0c0c0" />
<rect x="579" y="634" width="2" height="1" fill="#c0c0c0" />
<rect x="595" y="633" width="2" height="2" fill="#c0c0c0" />
<rect x="611" y="632" width="2" height="3" fill="#c0c0c0" />
<rect x="627" y="631" width="2" height="4" fill="#c0c0c0" />
<rect x="643" y="631" width="2" height="4" fill="#c0c0c0" />
<rect x="659" y="629" width="2" height="6" fill="#c0c0c0" />
<rect x="675" y="629" width="2" height="6" fill="#c0c0c0" />
<rect x="691" y="625" width="2" height="10" fill="#c0c0c0" />
<rect x="707" y="621" width="2" height="14" fill="#c0c0c0" />
<rect x="723" y="617" width="2" height="18" fill="#c0c0c0" />
<rect x="739" y="611" width="2" height="24" fill="#c0c0c0" />
<rect x="755" y="605" width="2" height="30" fill="#c0c0c0" />
<rect x="771" y="595" width="2" height="40" fill="#c0c0c0" />
<rect x="787" y="589" width="2" height="46" fill="#c0c0c0" />
<rect x="803" y="585" width="2" height="50" fill="#c0c0c0" />
<rect x="819" y="579" width="2" height="56" fill="#c0c0c0" />
<rect x="835" y="575" width="2" height="60" fill="#c0c0c0" />
<rect x="851" y="573" width="2" height="62" fill="#c0c0c0" />
<rect x="867" y="572" width="2" height="63" fill="#c0c0c0" />
<rect x="883" y="572" width="2" height="63" fill="#c0c0c0" />
<rect x="899" y="573" width="2" height="62" fill="#c0c0c0" />
<rect x="915" y="576" width="2" height="59" fill="#c0c0c0" />
<rect x="931" y="580" width="2" height="55" fill="#c0c0c0" />
<rect x="947" y="582" width="2" height="53" fill="#c0c0c0" />
<rect x="963" y="584" width="2" height="51" fill="#c0c0c0" />
<rect x="979" y="585" width="2" height="50" fill="#c0c0c0" />
<rect x="995" y="587" width="2" height="48" fill="#c0c0c0" />
<rect x="1011" y="590" width="2" height="45" fill="#c0c0c0" />
<rect x="1027" y="593" width="2" height="42" fill="#c0c0c0" />
<rect x="1043" y="595" width="2" height="40" fill="#c0c0c0" />
<rect x="1059" y="597" width="2" height="38" fill="#c0c0c0" />
<rect x="1075" y="598" width="2" height="37" fill="#c0c0c0" />
<rect x="1091" y="599" width="2" height="36" fill="#c0c0c0" />
<rect x="1107" y="601" width="2" height="34" fill="#c0c0c0" />
<rect x="1123" y="604" width="2" height="31" fill="#c0c0c0" />
<rect x="1139" y="606" width="2" height="29" fill="#c0c0c0" />
<rect x="1155" y="607" width="2" height="28" fill="#c0c0c0" />
<rect x="1171" y="609" width="2" height="26" fill="#c0c0c0" />
<rect x="1187" y="614" width="2" height="21" fill="#c0c0c0" />
<rect x="1203" y="617" width="2" height="18" fill="#c0c0c0" />
<path d="M4 664h3v1h-3zM10 664h3v1h-3zM16 664h3v1h-3zM22 664h3v1h-3zM28 664h3v1h-3zM34 664h3v1h-3zM40 664h3v1h-3zM46 663h3v1h-3zM52 663h3v1h-3zM58 663h3v1h-3zM64 662h3v1h-3zM70 662h3v1h-3zM76 661h3v1h-3zM82 661h3v1h-3zM88 660h3v1h-3zM94 660h1v1h-1zM95 659h2v1h-2zM100 659h3v1h-3zM106 658h3v1h-3zM112 658h3v1h-3zM118 657h3v1h-3zM124 657h3v1h-3zM130 656h3v1h-3zM136 656h1v1h-1zM137 655h2v1h-2zM142 655h3v1h-3zM148 654h3v1h-3zM154 653h3v1h-3zM160 653h1v1h-1zM161 652h2v1h-2zM166 652h3v1h-3zM172 652h1v1h-1zM173 651h2v1h-2zM178 651h3v1h-3zM184 651h3v1h-3zM190 650h3v1h-3zM196 650h3v1h-3zM202 650h3v1h-3zM208 650h3v1h-3zM214 649h3v1h-3zM220 649h3v1h-3zM226 649h3v1h-3zM232 649h3v1h-3zM238 648h3v1h-3zM244 648h3v1h-3zM250 648h3v1h-3zM256 647h3v1h-3zM262 647h3v1h-3zM268 647h1v1h-1zM269 646h2v1h-2zM274 646h3v1h-3zM280 646h3v1h-3zM286 645h3v1h-3zM292 645h3v1h-3zM298 644h3v1h-3zM304 644h3v1h-3zM310 643h3v1h-3zM316 643h3v1h-3zM322 642h3v1h-3zM328 642h3v1h-3zM334 642h3v1h-3zM340 642h1v1h-1zM341 641h2v1h-2zM346 641h3v1h-3zM352 641h3v1h-3zM358 641h3v1h-3zM364 641h3v1h-3zM370 641h3v1h-3zM376 640h3v1h-3zM382 640h3v1h-3zM388 640h3v1h-3zM394 640h3v1h-3zM400 640h3v1h-3zM406 640h3v1h-3zM412 640h3v1h-3zM418 640h3v1h-3zM424 640h3v1h-3zM430 640h3v1h-3zM436 640h3v1h-3zM442 640h3v1h-3zM448 640h3v1h-3zM454 640h3v1h-3zM460 640h3v1h-3zM466 640h3v1h-3zM472 640h3v1h-3zM478 640h3v1h-3zM484 640h3v1h-3zM490 640h3v1h-3zM496 640h3v1h-3zM502 640h3v1h-3zM508 640h1v1h-1zM509 641h2v1h-2zM514 641h3v1h-3zM520 641h3v1h-3zM526 641h3v1h-3zM532 641h3v1h-3zM538 641h3v1h-3zM544 641h3v1h-3zM550 641h3v1h-3zM556 641h3v1h-3zM562 641h3v1h-3zM568 641h3v1h-3zM574 640h3v1h-3zM580 640h3v1h-3zM586 640h3v1h-3zM592 640h3v1h-3zM598 639h3v1h-3zM604 639h3v1h-3zM610 639h3v1h-3zM616 639h3v1h-3zM622 638h3v1h-3zM628 638h3v1h-3zM634 638h3v1h-3zM640 637h3v1h-3zM646 637h3v1h-3zM652 637h1v1h-1zM653 636h2v1h-2zM658 636h3v1h-3zM664 636h1v1h-1zM665 635h2v1h-2zM670 635h3v1h-3zM676 634h3v1h-3zM682 633h3v1h-3zM688 633h1v1h-1zM689 632h2v1h-2zM694 632h3v1h-3zM700 631h3v1h-3zM706 630h3v1h-3zM712 630h3v1h-3zM718 629h3v1h-3zM724 629h3v1h-3zM730 628h3v1h-3zM736 627h2v1h-2zM738 626h1v1h-1zM742 626h1v1h-1zM743 625h2v1h-2zM748 624h3v1h-3zM754 623h1v1h-1zM755 622h2v1h-2zM760 621h3v1h-3zM766 620h1v1h-1zM767 619h2v1h-2zM772 618h3v1h-3zM778 617h1v1h-1zM779 616h2v1h-2zM784 615h3v1h-3zM790 613h3v1h-3zM796 612h1v1h-1zM797 611h2v1h-2zM802 610h1v1h-1zM803 609h2v1h-2zM808 608h1v1h-1zM809 607h2v1h-2zM814 605h3v1h-3zM820 603h3v1h-3zM826 602h1v1h-1zM827 601h2v1h-2zM832 600h3v1h-3zM838 598h3v1h-3zM844 597h1v1h-1zM845 596h2v1h-2zM850 595h1v1h-1zM851 594h2v1h-2zM856 593h1v1h-1zM857 592h2v1h-2zM862 590h3v1h-3zM868 588h3v1h-3zM874 587h1v1h-1zM875 586h2v1h-2zM880 585h3v1h-3zM886 583h3v1h-3zM892 582h1v1h-1zM893 581h2v1h-2zM898 580h1v1h-1zM899 579h2v1h-2zM904 579h1v1h-1zM905 578h2v1h-2zM910 578h3v1h-3zM916 577h3v1h-3zM922 577h3v1h-3zM928 576h3v1h-3zM934 576h3v1h-3zM940 576h3v1h-3zM946 576h3v1h-3zM952 576h3v1h-3zM958 576h3v1h-3zM964 576h3v1h-3zM970 577h3v1h-3zM976 577h1v1h-1zM977 578h2v1h-2zM982 578h3v1h-3zM988 579h3v1h-3zM994 580h3v1h-3zM1000 580h3v1h-3zM1006 581h3v1h-3zM1012 581h3v1h-3zM1018 582h3v1h-3zM1024 583h2v1h-2zM1026 584h1v1h-1zM1030 584h1v1h-1zM1031 585h2v1h-2zM1036 585h1v1h-1zM1037 586h2v1h-2zM1042 587h3v1h-3zM1048 587h3v1h-3zM1054 588h3v1h-3zM1060 588h3v1h-3zM1066 589h3v1h-3zM1072 589h1v1h-1zM1073 590h2v1h-2zM1078 590h3v1h-3zM1084 591h3v1h-3zM1090 592h3v1h-3zM1096 592h1v1h-1zM1097 593h2v1h-2zM1102 593h3v1h-3zM1108 594h3v1h-3zM1114 595h3v1h-3zM1120 596h2v1h-2zM1122 597h1v1h-1zM1126 597h3v1h-3zM1132 597h1v1h-1zM1133 598h2v1h-2zM1138 598h3v1h-3zM1144 598h1v1h-1zM1145 599h2v1h-2zM1150 599h3v1h-3zM1156 600h3v1h-3zM1162 601h3v1h-3zM1168 601h1v1h-1zM1169 602h2v1h-2zM1174 602h3v1h-3zM1180 603h3v1h-3zM1186 604h3v1h-3zM1192 605h3v1h-3zM1198 606h3v1h-3z" fill="#ff0000"/>
<line x1="4" x2="1419" y1="711.5" y2="711.5" stroke="#c0c0c0" stroke-dasharray="3 3"/>
<line x1="4" x2="1419" y1="762.5" y2="762.5" stroke="#c0c0c0" stroke-dasharray="3 3"/>
<path d="M4 749h3v1h-3zM7 748h4v1h-4zM11 747h4v1h-4zM15 746h4v1h-4zM19 745h3v1h-3zM22 744h2v1h-2zM24 743h2v1h-2zM26 742h3v1h-3zM29 741h2v1h-2zM31 740h2v1h-2zM33 739h2v1h-2zM35 738h6v1h-6zM41 739h8v1h-8zM49 740h21v1h-21zM70 741h3v1h-3zM73 742h2v1h-2zM75 743h3v1h-3zM78 744h3v1h-3zM81 745h2v1h-2zM83 746h6v1h-6zM89 747h8v1h-8zM97 748h5v1h-5zM102 747h2v1h-2zM104 746h2v1h-2zM106 745h2v1h-2zM108 744h2v1h-2zM110 743h2v1h-2zM112 742h2v1h-2zM114 741h2v1h-2zM116 740h3v1h-3zM119 741h6v1h-6zM125 742h5v1h-5zM130 743h5v1h-5zM135 742h6v1h-6zM141 741h5v1h-5zM146 740h7v1h-7zM153 741h8v1h-8zM161 742h4v1h-4zM165 743h2v1h-2zM167 744h2v1h-2zM169 745h1v1h-1zM170 746h2v1h-2zM172 747h1v1h-1zM173 748h2v1h-2zM175 749h2v1h-2zM177 750h1v1h-1zM178 751h2v1h-2zM180 752h1v1h-1zM181 751h2v1h-2zM183 750h2v1h-2zM185 749h1v1h-1zM186 748h2v1h-2zM188 747h1v1h-1zM189 746h2v1h-2zM191 745h2v1h-2zM193 744h1v1h-1zM194 743h2v1h-2zM196 742h2v1h-2zM198 741h3v1h-3zM201 740h2v1h-2zM203 739h3v1h-3zM206 738h3v1h-3zM209 737h2v1h-2zM211 736h4v1h-4zM215 737h4v1h-4zM219 738h4v1h-4zM223 739h4v1h-4zM227 740h6v1h-6zM233 739h8v1h-8zM241 738h5v1h-5zM246 737h3v1h-3zM249 736h2v1h-2zM251 735h3v1h-3zM254 734h3v1h-3zM257 733h2v1h-2zM259 732h19v1h-19zM278 733h3v1h-3zM281 734h2v1h-2zM283 735h3v1h-3zM286 736h3v1h-3zM289 737h2v1h-2zM291 738h26v1h-26zM317 737h10v1h-10zM327 738h4v1h-4zM331 739h4v1h-4zM335 740h4v1h-4zM339 741h10v1h-10zM349 740h10v1h-10zM359 741h6v1h-6zM365 742h5v1h-5zM370 743h5v1h-5zM375 742h4v1h-4zM379 741h4v1h-4zM383 740h4v1h-4zM387 739h10v1h-10zM397 738h26v1h-26zM423 737h4v1h-4zM427 736h4v1h-4zM431 735h4v1h-4zM435 734h2v1h-2zM437 735h2v1h-2zM439 736h2v1h-2zM441 737h2v1h-2zM443 738h2v1h-2zM445 739h1v1h-1zM446 740h2v1h-2zM448 741h2v1h-2zM450 742h2v1h-2zM452 743h9v1h-9zM461 744h10v1h-10zM471 743h4v1h-4zM475 742h4v1h-4zM479 741h4v1h-4zM483 740h2v1h-2zM485 741h1v1h-1zM486 742h2v1h-2zM488 743h1v1h-1zM489 744h1v1h-1zM490 745h1v1h-1zM491 746h2v1h-2zM493 747h1v1h-1zM494 748h1v1h-1zM495 749h1v1h-1zM496 750h1v1h-1zM497 751h2v1h-2zM499 752h1v1h-1zM500 753h1v1h-1zM501 752h2v1h-2zM503 751h1v1h-1zM504 750h1v1h-1zM505 749h2v1h-2zM507 748h1v1h-1zM508 747h1v1h-1zM509 746h2v1h-2zM511 745h1v1h-1zM512 744h1v1h-1zM513 743h2v1h-2zM515 742h1v1h-1zM516 741h3v1h-3zM519 740h4v1h-4zM523 739h4v1h-4zM527 738h4v1h-4zM531 737h3v1h-3zM534 736h3v1h-3zM537 735h4v1h-4zM541 734h3v1h-3zM544 733h3v1h-3zM547 732h4v1h-4zM551 731h6v1h-6zM557 730h5v1h-5zM562 729h5v1h-5zM567 728h4v1h-4zM571 727h4v1h-4zM575 726h4v1h-4zM579 725h4v1h-4zM583 726h4v1h-4zM587 727h4v1h-4zM591 728h4v1h-4zM595 729h36v1h-36zM631 730h4v1h-4zM635 731h4v1h-4zM639 732h4v1h-4zM643 733h3v1h-3zM646 732h2v1h-2zM648 731h2v1h-2zM650 730h3v1h-3zM653 729h2v1h-2zM655 728h2v1h-2zM657 727h2v1h-2zM659 726h3v1h-3zM662 727h3v1h-3zM665 728h2v1h-2zM667 729h3v1h-3zM670 730h3v1h-3zM673 731h2v1h-2zM675 732h2v1h-2zM677 731h1v1h-1zM678 730h1v1h-1zM679 729h1v1h-1zM680 728h1v1h-1zM681 727h1v1h-1zM682 726h1v1h-1zM683 725h1v1h-1zM684 724h1v1h-1zM685 723h1v1h-1zM686 722h1v1h-1zM687 721h1v1h-1zM688 720h1v1h-1zM689 719h1v1h-1zM690 718h1v1h-1zM691 717h1v1h-1zM692 716h3v1h-3zM695 715h6v1h-6zM701 714h5v1h-5zM706 713h7v1h-7zM713 712h8v1h-8zM721 711h5v1h-5zM726 710h2v1h-2zM728 709h2v1h-2zM730 708h3v1h-3zM733 707h2v1h-2zM735 706h2v1h-2zM737 705h2v1h-2zM739 704h10v1h-10zM749 703h8v1h-8zM757 702h2v1h-2zM759 701h2v1h-2zM761 700h2v1h-2zM763 699h2v1h-2zM765 698h1v1h-1zM766 697h2v1h-2zM768 696h2v1h-2zM770 695h2v1h-2zM772 694h2v1h-2zM774 695h3v1h-3zM777 696h4v1h-4zM781 697h3v1h-3zM784 698h3v1h-3zM787 699h20v1h-20zM807 698h6v1h-6zM813 697h5v1h-5zM818 696h11v1h-11zM829 695h9v1h-9zM838 696h3v1h-3zM841 697h4v1h-4zM845 698h3v1h-3zM848 699h3v1h-3zM851 700h4v1h-4zM855 701h6v1h-6zM861 702h5v1h-5zM866 703h7v1h-7zM873 702h8v1h-8zM881 701h5v1h-5zM886 702h3v1h-3zM889 703h4v1h-4zM893 704h3v1h-3zM896 705h3v1h-3zM899 706h3v1h-3zM902 707h3v1h-3zM905 708h2v1h-2zM907 709h3v1h-3zM910 710h3v1h-3zM913 711h2v1h-2zM915 712h6v1h-6zM921 713h8v1h-8zM929 714h8v1h-8zM937 713h8v1h-8zM945 712h8v1h-8zM953 711h8v1h-8zM961 710h8v1h-8zM969 709h8v1h-8zM977 708h8v1h-8zM985 709h8v1h-8zM993 710h5v1h-5zM998 711h2v1h-2zM1000 712h2v1h-2zM1002 713h2v1h-2zM1004 714h2v1h-2zM1006 715h2v1h-2zM1008 716h2v1h-2zM1010 717h2v1h-2zM1012 718h9v1h-9zM1021 717h16v1h-16zM1037 716h25v1h-25zM1062 715h3v1h-3zM1065 714h4v1h-4zM1069 713h3v1h-3zM1072 712h3v1h-3zM1075 711h18v1h-18zM1093 712h2v1h-2zM1095 713h1v1h-1zM1096 714h2v1h-2zM1098 715h1v1h-1zM1099 716h2v1h-2zM1101 717h1v1h-1zM1102 718h1v1h-1zM1103 719h2v1h-2zM1105 720h1v1h-1zM1106 721h2v1h-2zM1108 722h21v1h-21zM1129 721h8v1h-8zM1137 720h12v1h-12zM1149 719h12v1h-12zM1161 720h8v1h-8zM1169 721h4v1h-4zM1173 722h1v1h-1zM1174 723h1v1h-1zM1175 724h1v2h-1zM1176 726h1v1h-1zM1177 727h1v1h-1zM1178 728h1v1h-1zM1179 729h1v1h-1zM1180 730h1v2h-1zM1181 732h1v1h-1zM1182 733h1v1h-1zM1183 734h1v1h-1zM1184 735h1v1h-1zM1185 736h1v2h-1zM1186 738h1v1h-1zM1187 739h1v1h-1zM1188 740h2v1h-2zM1190 739h3v1h-3zM1193 738h4v1h-4zM1197 737h3v1h-3zM1200 736h3v1h-3zM1203 735h2v1h-2z" fill="#1e90ff"/>
</g>
<rect x="1420" y="33" width="2" height="1" fill="#000" />
<rect x="1420" y="66" width="2" height="1" fill="#000" />
<rect x="1420" y="99" width="2" height="1" fill="#000" />
<rect x="1420" y="132" width="2" height="1" fill="#000" />
<rect x="1420" y="165" width="2" height="1" fill="#000" />
<rect x="1420" y="198" width="2" height="1" fill="#000" />
<rect x="1420" y="231" width="2" height="1" fill="#000" />
<rect x="1420" y="264" width="2" height="1" fill="#000" />
<rect x="1420" y="297" width="2" height="1" fill="#000" />
<rect x="1420" y="330" width="2" height="1" fill="#000" />
<rect x="1420" y="363" width="2" height="1" fill="#000" />
<rect x="1420" y="396" width="2" height="1" fill="#000" />
<rect x="1420" y="429" width="2" height="1" fill="#000" />
<rect x="1420" y="462" width="2" height="1" fill="#000" />
<rect x="1420" y="495" width="2" height="1" fill="#000" />
<rect x="1420" y="528" width="2" height="1" fill="#000" />
<rect x="1420" y="561" width="2" height="1" fill="#000" />
<rect x="4" y="801" width="1" height="4" fill="#000" />
<rect x="68" y="801" width="1" height="4" fill="#000" />
<rect x="132" y="801" width="1" height="4" fill="#000" />
<rect x="196" y="801" width="1" height="4" fill="#000" />
<rect x="260" y="801" width="1" height="4" fill="#000" />
<rect x="324" y="801" width="1" height="4" fill="#000" />
<rect x="388" y="801" width="1" height="4" fill="#000" />
<rect x="452" y="801" width="1" height="4" fill="#000" />
<rect x="516" y="801" width="1" height="4" fill="#000" />
<rect x="580" y="801" width="1" height="4" fill="#000" />
<rect x="644" y="801" width="1" height="4" fill="#000" />
<rect x="708" y="801" width="1" height="4" fill="#000" />
<rect x="772" y="801" width="1" height="4" fill="#000" />
<rect x="836" y="801" width="1" height="4" fill="#000" />
<rect x="900" y="801" width="1" height="4" fill="#000" />
<rect x="964" y="801" width="1" height="4" fill="#000" />
<rect x="1028" y="801" width="1" height="4" fill="#000" />
<rect x="1092" y="801" width="1" height="4" fill="#000" />
<rect x="1156" y="801" width="1" height="4" fill="#000" />
<rect x="1421" y="139" width="41" height="11" fill="#000" />
<rect x="0" y="822" width="1465" height="1" fill="#e3e3e3" />
<rect x="0" y="824" width="1465" height="20" fill="#f0f0f0" />
<rect x="0" y="824" width="1465" height="1" fill="#000" />
<rect x="0" y="824" width="1" height="20" fill="#000" />
<rect x="437" y="823" width="112" height="20" fill="#fff" />
<rect x="437" y="824" width="1" height="19" fill="#000" />
<rect x="548" y="824" width="1" height="19" fill="#000" />
<rect x="437" y="842" width="112" height="1" fill="#000" />
<rect x="113" y="828" width="1" height="13" fill="#808080" />
<rect x="221" y="828" width="1" height="13" fill="#808080" />
<rect x="329" y="828" width="1" height="13" fill="#808080" />
<rect x="669" y="828" width="1" height="13" fill="#808080" />
<polygon points="1438,829 1438,837 1434,833" fill="#a0a0a0"/>
<polygon points="1454,829 1454,837 1458,833" fill="#a0a0a0"/>
<polygon points="7,36.5 15,36.5 11,32" fill="#000" shape-rendering="auto"/>
<rect x="8" y="69" width="50" height="1" fill="#e03030" />
<rect x="175" y="69" width="50" height="1" fill="#e03030" />
<rect x="11" y="68" width="44" height="1" fill="#a80000" />
<rect x="11" y="69" width="44" height="1" fill="#f06868" />
<rect x="178" y="68" width="44" height="1" fill="#a80000" />
<rect x="178" y="69" width="44" height="1" fill="#f06868" />
<polygon points="69,54 75,54 72,57" fill="#4a5cc0"/>
<polygon points="157,57 163,57 160,54" fill="#4a5cc0"/>
</svg>
<div class="t s" style="left:6.60px;top:6px;font-size:10px;color:#404040;font-weight:normal;transform:scaleX(0.9462)">H4</div>
<div class="t s" style="left:35.70px;top:6px;font-size:10px;color:#404040;font-weight:normal;transform:scaleX(0.8692)">D1</div>
<div class="t s" style="left:63.20px;top:6px;font-size:10px;color:#404040;font-weight:normal;transform:scaleX(0.9333)">W1</div>
<div class="t s" style="left:89.60px;top:6px;font-size:10px;color:#404040;font-weight:normal;transform:scaleX(0.9600)">MN</div>
<div class="t s" style="left:19.50px;top:30px;font-size:10px;color:#000;font-weight:normal;transform:scaleX(0.9521)">USDCNH-,Daily</div>
<div class="t s" style="left:94.10px;top:30px;font-size:10px;color:#000;font-weight:normal;transform:scaleX(0.9000)">6.89457</div>
<div class="t s" style="left:130.30px;top:30px;font-size:10px;color:#000;font-weight:normal;transform:scaleX(0.9000)">6.90733</div>
<div class="t s" style="left:166.20px;top:30px;font-size:10px;color:#000;font-weight:normal;transform:scaleX(0.9000)">6.89177</div>
<div class="t s" style="left:202.00px;top:30px;font-size:10px;color:#000;font-weight:normal;transform:scaleX(0.9000)">6.90696</div>
<div class="t s" style="left:1425.20px;top:30px;font-size:10px;color:#000;font-weight:normal;transform:scaleX(0.9028)">6.97200</div>
<div class="t s" style="left:1425.20px;top:63px;font-size:10px;color:#000;font-weight:normal;transform:scaleX(0.9028)">6.95275</div>
<div class="t s" style="left:1425.20px;top:96px;font-size:10px;color:#000;font-weight:normal;transform:scaleX(0.9028)">6.93295</div>
<div class="t s" style="left:1425.20px;top:129px;font-size:10px;color:#000;font-weight:normal;transform:scaleX(0.9028)">6.91370</div>
<div class="t s" style="left:1425.20px;top:162px;font-size:10px;color:#000;font-weight:normal;transform:scaleX(0.9028)">6.89445</div>
<div class="t s" style="left:1425.20px;top:195px;font-size:10px;color:#000;font-weight:normal;transform:scaleX(0.9028)">6.87520</div>
<div class="t s" style="left:1425.20px;top:228px;font-size:10px;color:#000;font-weight:normal;transform:scaleX(0.9028)">6.85595</div>
<div class="t s" style="left:1425.20px;top:261px;font-size:10px;color:#000;font-weight:normal;transform:scaleX(0.9028)">6.83670</div>
<div class="t s" style="left:1425.20px;top:294px;font-size:10px;color:#000;font-weight:normal;transform:scaleX(0.9028)">6.81745</div>
<div class="t s" style="left:1425.20px;top:327px;font-size:10px;color:#000;font-weight:normal;transform:scaleX(0.9028)">6.79820</div>
<div class="t s" style="left:1425.20px;top:360px;font-size:10px;color:#000;font-weight:normal;transform:scaleX(0.9028)">6.77895</div>
<div class="t s" style="left:1425.20px;top:393px;font-size:10px;color:#000;font-weight:normal;transform:scaleX(0.9028)">6.75970</div>
<div class="t s" style="left:1425.20px;top:426px;font-size:10px;color:#000;font-weight:normal;transform:scaleX(0.9028)">6.74045</div>
<div class="t s" style="left:1425.20px;top:459px;font-size:10px;color:#000;font-weight:normal;transform:scaleX(0.9028)">6.72120</div>
<div class="t s" style="left:1425.20px;top:492px;font-size:10px;color:#000;font-weight:normal;transform:scaleX(0.9028)">6.70195</div>
<div class="t s" style="left:1425.20px;top:525px;font-size:10px;color:#000;font-weight:normal;transform:scaleX(0.9028)">6.68270</div>
<div class="t s" style="left:1425.20px;top:558px;font-size:10px;color:#000;font-weight:normal;transform:scaleX(0.9028)">6.66345</div>
<div class="t s" style="left:1425.20px;top:141px;font-size:10px;color:#fff;font-weight:normal;transform:scaleX(0.9028)">6.90696</div>
<div class="t s" style="left:1423.00px;top:570px;font-size:10px;color:#000;font-weight:normal;transform:scaleX(0.8839)">0.0598</div>
<div class="t s" style="left:1423.00px;top:632px;font-size:10px;color:#000;font-weight:normal;transform:scaleX(0.8900)">0.00</div>
<div class="t s" style="left:1423.00px;top:659px;font-size:10px;color:#000;font-weight:normal;transform:scaleX(0.8933)">-0.029049</div>
<div class="t s" style="left:1423.00px;top:675px;font-size:10px;color:#000;font-weight:normal;transform:scaleX(0.8824)">100</div>
<div class="t s" style="left:1422.04px;top:708px;font-size:10px;color:#000;font-weight:normal;transform:scaleX(0.9600)">70</div>
<div class="t s" style="left:1423.00px;top:759px;font-size:10px;color:#000;font-weight:normal;transform:scaleX(0.8727)">30</div>
<div class="t s" style="left:1423.00px;top:791px;font-size:10px;color:#000;font-weight:normal;transform:scaleX(0.8000)">0</div>
<div class="t s" style="left:8.90px;top:572px;font-size:10px;color:#000;font-weight:normal;transform:scaleX(0.9357)">MACD(12,26,9)</div>
<div class="t s" style="left:77.40px;top:572px;font-size:10px;color:#000;font-weight:normal;transform:scaleX(0.8810)">0.016092</div>
<div class="t s" style="left:118.10px;top:572px;font-size:10px;color:#000;font-weight:normal;transform:scaleX(0.8929)">0.025790</div>
<div class="t s" style="left:8.90px;top:677px;font-size:10px;color:#000;font-weight:normal;transform:scaleX(0.9118)">RSI(14)</div>
<div class="t s" style="left:43.40px;top:677px;font-size:10px;color:#000;font-weight:normal;transform:scaleX(0.8917)">51.5463</div>
<div class="t s" style="left:3.60px;top:807px;font-size:10px;color:#000;font-weight:normal;transform:scaleX(0.9350)">5 Mar 2019</div>
<div class="t s" style="left:67.60px;top:807px;font-size:10px;color:#000;font-weight:normal;transform:scaleX(0.9350)">11 Mar 2019</div>
<div class="t s" style="left:131.60px;top:807px;font-size:10px;color:#000;font-weight:normal;transform:scaleX(0.9350)">15 Mar 2019</div>
<div class="t s" style="left:195.60px;top:807px;font-size:10px;color:#000;font-weight:normal;transform:scaleX(0.9350)">21 Mar 2019</div>
<div class="t s" style="left:259.60px;top:807px;font-size:10px;color:#000;font-weight:normal;transform:scaleX(0.9350)">27 Mar 2019</div>
<div class="t s" style="left:323.60px;top:807px;font-size:10px;color:#000;font-weight:normal;transform:scaleX(0.9350)">2 Apr 2019</div>
<div class="t s" style="left:387.60px;top:807px;font-size:10px;color:#000;font-weight:normal;transform:scaleX(0.9350)">8 Apr 2019</div>
<div class="t s" style="left:451.60px;top:807px;font-size:10px;color:#000;font-weight:normal;transform:scaleX(0.9350)">12 Apr 2019</div>
<div class="t s" style="left:515.60px;top:807px;font-size:10px;color:#000;font-weight:normal;transform:scaleX(0.9350)">18 Apr 2019</div>
<div class="t s" style="left:579.60px;top:807px;font-size:10px;color:#000;font-weight:normal;transform:scaleX(0.9350)">25 Apr 2019</div>
<div class="t s" style="left:643.60px;top:807px;font-size:10px;color:#000;font-weight:normal;transform:scaleX(0.9350)">1 May 2019</div>
<div class="t s" style="left:706.67px;top:807px;font-size:10px;color:#000;font-weight:normal;transform:scaleX(0.9350)">7 May 2019</div>
<div class="t s" style="left:771.60px;top:807px;font-size:10px;color:#000;font-weight:normal;transform:scaleX(0.9350)">13 May 2019</div>
<div class="t s" style="left:835.60px;top:807px;font-size:10px;color:#000;font-weight:normal;transform:scaleX(0.9350)">17 May 2019</div>
<div class="t s" style="left:899.60px;top:807px;font-size:10px;color:#000;font-weight:normal;transform:scaleX(0.9350)">23 May 2019</div>
<div class="t s" style="left:963.60px;top:807px;font-size:10px;color:#000;font-weight:normal;transform:scaleX(0.9350)">29 May 2019</div>
<div class="t s" style="left:1027.60px;top:807px;font-size:10px;color:#000;font-weight:normal;transform:scaleX(0.9350)">4 Jun 2019</div>
<div class="t s" style="left:1091.60px;top:807px;font-size:10px;color:#000;font-weight:normal;transform:scaleX(0.9350)">10 Jun 2019</div>
<div class="t s" style="left:1155.60px;top:807px;font-size:10px;color:#000;font-weight:normal;transform:scaleX(0.9350)">14 Jun 2019</div>
<div class="t" style="left:16.40px;top:828px;font-size:13px;color:#808080;font-weight:normal;transform:scaleX(0.9174)">EURUSD-,Daily</div>
<div class="t" style="left:123.00px;top:828px;font-size:13px;color:#808080;font-weight:normal;transform:scaleX(0.9457)">AUDUSD-,Daily</div>
<div class="t" style="left:233.00px;top:828px;font-size:13px;color:#808080;font-weight:normal;transform:scaleX(0.9198)">USDCHF-,Daily</div>
<div class="t" style="left:340.60px;top:828px;font-size:13px;color:#808080;font-weight:normal;transform:scaleX(0.9283)">USDCAD-,Daily</div>
<div class="t" style="left:449.50px;top:828px;font-size:13px;color:#000;font-weight:normal;transform:scaleX(0.9355)">USDCNH-,Daily</div>
<div class="t" style="left:560.40px;top:828px;font-size:13px;color:#808080;font-weight:normal;transform:scaleX(0.9171)">EURCHF-,Weekly</div>
<div class="t" style="left:19.40px;top:50px;font-size:13px;color:#fff;font-weight:normal;transform:scaleX(0.7969)">SELL</div>
<div class="t" style="left:187.30px;top:50px;font-size:13px;color:#fff;font-weight:normal;transform:scaleX(0.8704)">BUY</div>
<div class="t" style="left:122.53px;top:49px;font-size:13px;color:#000;font-weight:normal;transform:scaleX(0.9667)">1.00</div>
<div class="t" style="left:27.00px;top:92px;font-size:11px;color:#fff;font-weight:bold;transform:scaleX(1.0727)">6.90</div>
<div class="t" style="left:137.30px;top:92px;font-size:11px;color:#fff;font-weight:bold;transform:scaleX(1.0727)">6.90</div>
<div class="t" style="left:54.36px;top:72px;font-size:34px;color:#fff;font-weight:normal;transform:scaleX(0.9444)">69</div>
<div class="t" style="left:165.07px;top:72px;font-size:34px;color:#fff;font-weight:normal;transform:scaleX(0.9306)">92</div>
<div class="t" style="left:94.20px;top:76px;font-size:11px;color:#fff;font-weight:bold;transform:scaleX(1.1667)">6</div>
<div class="t" style="left:204.80px;top:76px;font-size:11px;color:#fff;font-weight:bold;transform:scaleX(1.1667)">2</div>
</body></html>
